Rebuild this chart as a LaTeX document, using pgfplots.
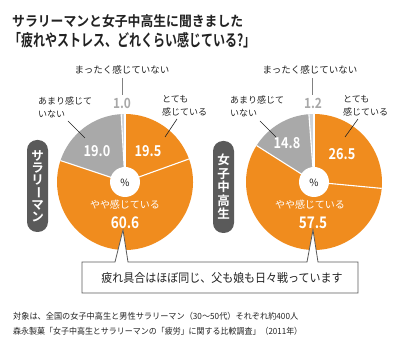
\documentclass[border=0pt]{standalone}
\usepackage{pgfplots}
\pgfplotsset{compat=1.18}
\usepackage{graphicx}
\usepackage{fontspec}
\setmainfont{Noto Sans CJK JP}[BoldFont={Noto Sans CJK JP Bold}]
\definecolor{orng}{HTML}{F08C1E}
\definecolor{gry}{HTML}{A9A9A9}
\definecolor{lgry}{HTML}{CDD2D8}
\definecolor{dgry}{HTML}{5A5A5A}
\definecolor{numgry}{HTML}{A8A8A8}
\definecolor{txt}{HTML}{222222}
% data (percent): とても, やや, あまり, まったく
\def\SA{19.5}\def\SB{60.6}\def\SC{19.0}\def\SD{1.0}
\def\JA{26.5}\def\JB{57.5}\def\JC{14.8}\def\JD{1.2}
\newcommand\pieslice[5]{%
  \fill[#5] (axis cs:#1,#2) -- ++(#3:68pt) arc[start angle=#3,end angle=#4,radius=68pt] -- cycle;}
\newcommand\sep[3]{\draw[white,line width=1.1pt] (axis cs:#1,#2) -- ++(#3:68pt);}
\newcommand\fitw[2]{\resizebox{#1}{\height}{#2}}
\begin{document}
\begin{tikzpicture}
\pgfmathsetmacro\Sa{90-3.6*\SA}
\pgfmathsetmacro\Sb{\Sa-3.6*\SB}
\pgfmathsetmacro\Sc{\Sb-3.6*\SC}
\pgfmathsetmacro\Ja{90-3.6*\JA}
\pgfmathsetmacro\Jb{\Ja-3.6*\JB}
\pgfmathsetmacro\Jc{\Jb-3.6*\JC}
\begin{axis}[width=400pt,height=347pt,scale only axis,
  xmin=0,xmax=400,ymin=0,ymax=347,y dir=reverse,
  hide axis,clip=false]
\path (axis cs:0,0) rectangle (axis cs:400,347);
% left pie
\pieslice{125}{182}{90}{\Sa}{orng}
\pieslice{125}{182}{\Sa}{\Sb}{orng}
\pieslice{125}{182}{\Sb}{\Sc}{gry}
\pieslice{125}{182}{\Sc}{-270}{lgry}
\sep{125}{182}{90}\sep{125}{182}{\Sa}\sep{125}{182}{\Sb}\sep{125}{182}{\Sc}
\fill[white] (axis cs:125,182) circle[radius=15pt];
% right pie
\pieslice{314}{182}{90}{\Ja}{orng}
\pieslice{314}{182}{\Ja}{\Jb}{orng}
\pieslice{314}{182}{\Jb}{\Jc}{gry}
\pieslice{314}{182}{\Jc}{-270}{lgry}
\sep{314}{182}{90}\sep{314}{182}{\Ja}\sep{314}{182}{\Jb}\sep{314}{182}{\Jc}
\fill[white] (axis cs:314,182) circle[radius=15pt];
\node[font=\fontsize{10}{10}\selectfont,text=txt] at (axis cs:125,183) {\%};
\node[font=\fontsize{10}{10}\selectfont,text=txt] at (axis cs:314,183) {\%};
% title
\node[anchor=west,inner sep=0,font=\bfseries\fontsize{14}{14}\selectfont,text=txt] at (axis cs:12,21) {\fitw{231pt}{サラリーマンと女子中高生に聞きました}};
\node[anchor=west,inner sep=0,font=\bfseries\fontsize{16.5}{16.5}\selectfont,text=txt] at (axis cs:9,40) {\fitw{246pt}{「疲れやストレス、どれくらい感じている?」}};
% vertical labels
\node[fill=dgry,rounded corners=10pt,minimum width=21pt,minimum height=92pt,inner sep=0,
  text=white,font=\bfseries\fontsize{12.5}{12}\selectfont,align=center] at (axis cs:37.5,186)
  {サ\\ラ\\リ\\\rotatebox[origin=c]{-90}{ー}\\マ\\ン};
\node[fill=dgry,rounded corners=10pt,minimum width=21pt,minimum height=92pt,inner sep=0,
  text=white,font=\bfseries\fontsize{12.5}{13.5}\selectfont,align=center] at (axis cs:223.5,187)
  {女\\子\\中\\高\\生};
% left labels
\node[font=\fontsize{9.5}{9.5}\selectfont,text=txt] at (axis cs:122,70) {まったく感じていない};
\draw[gray,line width=0.6pt] (axis cs:122.5,78) -- (axis cs:122.5,95);
\node[font=\bfseries\fontsize{14}{14}\selectfont,text=numgry] at (axis cs:122,103) {\scalebox{0.85}[1]{1.0}};
\node[anchor=west,inner sep=0,font=\fontsize{9}{9}\selectfont,text=txt] at (axis cs:38,101) {あまり感じて};
\node[anchor=west,inner sep=0,font=\fontsize{9}{9}\selectfont,text=txt] at (axis cs:38,114) {いない};
\draw[txt,line width=0.6pt] (axis cs:68,121) -- (axis cs:85,138);
\node[anchor=west,inner sep=0,font=\fontsize{9}{9}\selectfont,text=txt] at (axis cs:162,99) {とても};
\node[anchor=west,inner sep=0,font=\fontsize{9}{9}\selectfont,text=txt] at (axis cs:162,112) {感じている};
\draw[txt,line width=0.6pt] (axis cs:177,119) -- (axis cs:165,137);
\node[font=\bfseries\fontsize{15}{15}\selectfont,text=white] at (axis cs:97,151) {\scalebox{0.85}[1]{19.0}};
\node[font=\bfseries\fontsize{15}{15}\selectfont,text=white] at (axis cs:148,151) {\scalebox{0.85}[1]{19.5}};
\node[font=\fontsize{10}{10}\selectfont,text=white] at (axis cs:125,205) {やや感じている};
\node[font=\bfseries\fontsize{16}{16}\selectfont,text=white] at (axis cs:125,223) {\scalebox{0.85}[1]{60.6}};
% right labels
\node[font=\fontsize{9.5}{9.5}\selectfont,text=txt] at (axis cs:310,70) {まったく感じていない};
\draw[gray,line width=0.6pt] (axis cs:312,78) -- (axis cs:312,95);
\node[font=\bfseries\fontsize{14}{14}\selectfont,text=numgry] at (axis cs:313,103) {\scalebox{0.85}[1]{1.2}};
\node[anchor=west,inner sep=0,font=\fontsize{9}{9}\selectfont,text=txt] at (axis cs:230,100) {あまり感じて};
\node[anchor=west,inner sep=0,font=\fontsize{9}{9}\selectfont,text=txt] at (axis cs:230,113) {いない};
\draw[txt,line width=0.6pt] (axis cs:260,121) -- (axis cs:276,137);
\node[anchor=west,inner sep=0,font=\fontsize{9}{9}\selectfont,text=txt] at (axis cs:343,99) {とても};
\node[anchor=west,inner sep=0,font=\fontsize{9}{9}\selectfont,text=txt] at (axis cs:343,112) {感じている};
\draw[txt,line width=0.6pt] (axis cs:358,119) -- (axis cs:345,137);
\node[font=\bfseries\fontsize{15}{15}\selectfont,text=white] at (axis cs:287,143) {\scalebox{0.85}[1]{14.8}};
\node[font=\bfseries\fontsize{15}{15}\selectfont,text=white] at (axis cs:342,154) {\scalebox{0.85}[1]{26.5}};
\node[font=\fontsize{10}{10}\selectfont,text=white] at (axis cs:310,205) {やや感じている};
\node[font=\bfseries\fontsize{16}{16}\selectfont,text=white] at (axis cs:313,223) {\scalebox{0.85}[1]{57.5}};
% callout
\draw[fill=white,draw=dgry,line width=0.8pt,line join=miter]
  (axis cs:82,262) -- (axis cs:115,262) -- (axis cs:123,230) -- (axis cs:128,262)
  -- (axis cs:307,262) -- (axis cs:313,230) -- (axis cs:318,262) -- (axis cs:358,262)
  -- (axis cs:358,293) -- (axis cs:82,293) -- cycle;
\node[font=\fontsize{12}{12}\selectfont,text=txt] at (axis cs:222,277.5) {\fitw{241pt}{疲れ具合はほぼ同じ、父も娘も日々戦っています}};
% footnotes
\node[anchor=west,inner sep=0,font=\fontsize{8.5}{8.5}\selectfont,text=txt] at (axis cs:13,316) {\fitw{285pt}{対象は、全国の女子中高生と男性サラリーマン（30～50代）それぞれ約400人}};
\node[anchor=west,inner sep=0,font=\fontsize{8.5}{8.5}\selectfont,text=txt] at (axis cs:13,331) {\fitw{289pt}{森永製菓「女子中高生とサラリーマンの「疲労」に関する比較調査」（2011年）}};
\end{axis}
\end{tikzpicture}
\end{document}
